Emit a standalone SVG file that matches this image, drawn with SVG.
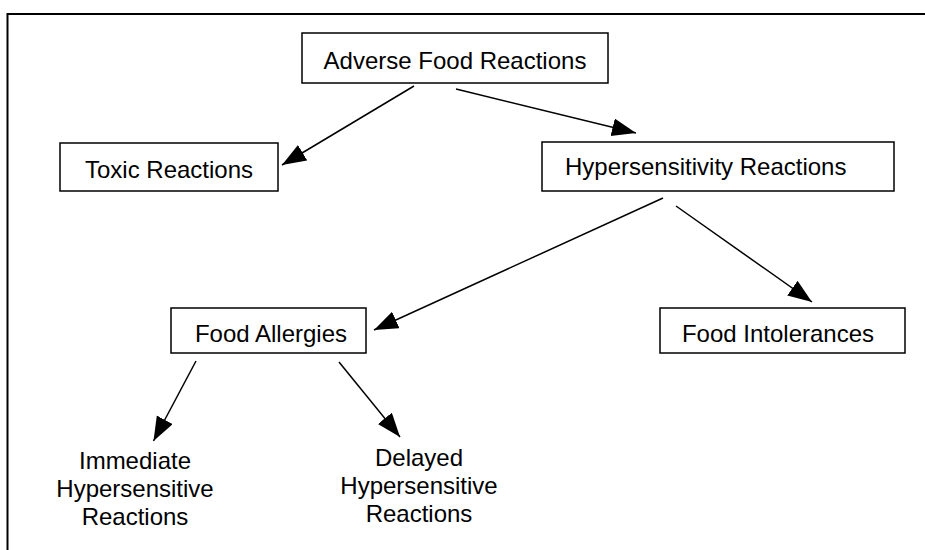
<svg xmlns="http://www.w3.org/2000/svg" width="925" height="550" viewBox="0 0 925 550">
<style>
.box{fill:#fff;stroke:#000;stroke-width:1.5}
.t{font-family:"Liberation Sans",Arial,sans-serif;font-size:24px;fill:#000}
.c{text-anchor:middle}
.edge{stroke:#000;stroke-width:1.5;fill:none;marker-end:url(#ah)}
</style>
<defs>
<marker id="ah" markerUnits="userSpaceOnUse" markerWidth="26" markerHeight="20" refX="24" refY="9" orient="auto">
<path d="M0,0 L24,9 L0,18 Z" fill="#000"/>
</marker>
</defs>
<rect x="7.5" y="14" width="930" height="560" fill="#fff" stroke="#000" stroke-width="2"/>
<g id="connectors">
<line class="edge" x1="414" y1="86" x2="282" y2="165"/>
<line class="edge" x1="456" y1="89" x2="636" y2="133"/>
<line class="edge" x1="663" y1="198" x2="374" y2="330"/>
<line class="edge" x1="676" y1="206" x2="812" y2="302"/>
<line class="edge" x1="196" y1="361" x2="153.5" y2="441"/>
<line class="edge" x1="339" y1="362" x2="400" y2="437"/>
</g>
<g id="adverse">
<rect class="box" x="302" y="33" width="306" height="50"/>
<text class="t c" x="455" y="69">Adverse Food Reactions</text>
</g>
<g id="toxic">
<rect class="box" x="60" y="143" width="218" height="48"/>
<text class="t c" x="169" y="178">Toxic Reactions</text>
</g>
<g id="hyper">
<rect class="box" x="542" y="142" width="352" height="49"/>
<text class="t" x="565" y="175">Hypersensitivity Reactions</text>
</g>
<g id="allergies">
<rect class="box" x="171" y="308" width="195" height="45"/>
<text class="t c" x="271" y="342">Food Allergies</text>
</g>
<g id="intolerances">
<rect class="box" x="660" y="308" width="245" height="45"/>
<text class="t c" x="778" y="342">Food Intolerances</text>
</g>
<g id="immediate">
<text class="t c" x="135" y="469">Immediate</text>
<text class="t c" x="135" y="497">Hypersensitive</text>
<text class="t c" x="135" y="525">Reactions</text>
</g>
<g id="delayed">
<text class="t c" x="419" y="466">Delayed</text>
<text class="t c" x="419" y="494">Hypersensitive</text>
<text class="t c" x="419" y="522">Reactions</text>
</g>
</svg>
